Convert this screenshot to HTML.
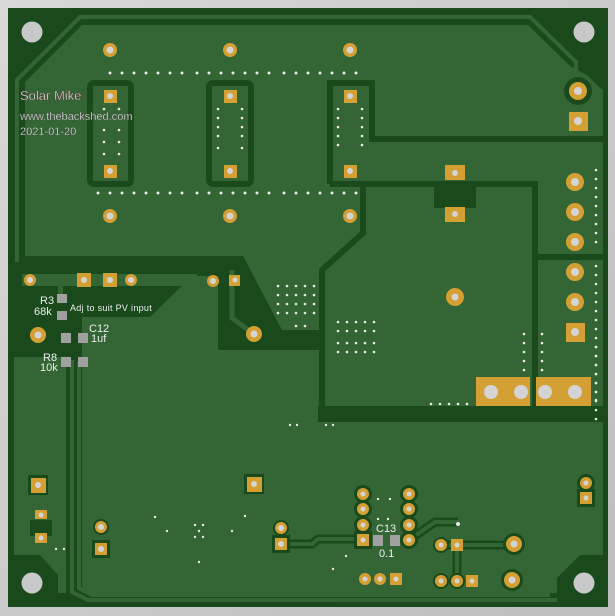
<!DOCTYPE html>
<html><head><meta charset="utf-8"><style>
html,body{margin:0;padding:0;width:615px;height:616px;overflow:hidden;background:#c8c8c8}
svg{display:block}
text{font-family:"Liberation Sans",sans-serif;fill:#eee}
</style></head><body>
<svg width="615" height="616" viewBox="0 0 615 616" xmlns="http://www.w3.org/2000/svg">
<defs>
<linearGradient id="bg" x1="0" y1="0" x2="1" y2="1"><stop offset="0" stop-color="#d8d8d8"/><stop offset="1" stop-color="#bdbdbd"/></linearGradient>
</defs>
<rect width="615" height="616" fill="url(#bg)"/>
<rect x="8" y="8" width="600" height="599" fill="#1a4a1c"/>
<rect x="14" y="14" width="589" height="586" fill="#346535"/>
<g fill="#1a4a1c">
<rect x="8" y="8" width="600" height="17"/>
<polygon points="8,8 100,8 100,25 82,25 25,82 25,258 8,258"/>
<polygon points="520,8 608,8 608,92 600,88 587,75 570,66 528,25"/>
<polygon points="8,256 224,256 220,276 192,276 150,317 82,317 82,357 8,357"/>
<polygon points="218,256 243,256 282,330 324,330 324,350 218,350"/>
<rect x="318" y="406" width="290" height="16"/>
<rect x="66" y="357" width="16" height="250"/>
<rect x="8" y="593" width="600" height="14"/>
<polygon points="8,555 40,555 58,575 58,607 8,607"/>
<polygon points="608,555 580,555 557,578 557,607 608,607"/>
<rect x="603" y="8" width="5" height="599"/>
<rect x="8" y="355" width="6" height="252"/>
</g>
<g fill="#346535">
<rect x="22" y="274" width="175" height="12"/>
<rect x="58" y="286" width="5" height="12"/>
</g>
<polyline points="232,270 232,318 254,334" fill="none" stroke="#346535" stroke-width="5"/>
<g fill="none" stroke="#1a4a1c" stroke-width="6">
<rect x="90" y="83" width="41" height="101" rx="4"/>
<rect x="209" y="83" width="42" height="101" rx="4"/>
<polyline points="330,184 330,83 372,83 372,139 603,139"/>
<polyline points="330,184 535,184 535,410"/>
<polyline points="322,410 322,270 363,233 363,186"/>
<line x1="535" y1="257" x2="603" y2="257"/>
</g>
<rect x="434" y="186" width="42" height="22" fill="#1a4a1c"/>
<g fill="none" stroke="#346535" stroke-width="4">
<polyline points="17,262 17,80 80,17 530,17 576,62 576,82"/>
<polyline points="72,360 72,592 88,600 557,600"/>
<polyline points="79,362 79,588 92,595 550,595"/>
</g>
<g fill="none" stroke="#1a4a1c" stroke-width="9" stroke-linejoin="round">
<polyline points="281,544 312,544 318,539 363,539"/>
<polyline points="409,540 435,522 458,522"/>
<polyline points="441,545 514,545"/><line x1="457" y1="545" x2="457" y2="581"/>
</g>
<g fill="none" stroke="#346535" stroke-width="4" stroke-linejoin="round">
<polyline points="281,544 312,544 318,539 363,539"/>
<polyline points="409,540 435,522 458,522"/>
<polyline points="441,545 514,545"/><line x1="457" y1="545" x2="457" y2="581"/>
</g>
<g fill="#1a4a1c">
<circle cx="578" cy="91" r="14"/>
<circle cx="363" cy="494" r="9"/><circle cx="363" cy="509" r="9"/><circle cx="363" cy="525" r="9"/><rect x="354" y="531" width="18" height="18"/>
<circle cx="409" cy="494" r="9"/><circle cx="409" cy="509" r="9"/><circle cx="409" cy="525" r="9"/><circle cx="409" cy="540" r="9"/>
<circle cx="514" cy="544" r="11"/><circle cx="512" cy="580" r="11"/>
<circle cx="586" cy="483" r="9"/><rect x="577" y="489" width="18" height="18"/>
<rect x="28" y="475" width="20" height="20"/><rect x="244" y="474" width="20" height="20"/>
<rect x="30" y="520" width="22" height="16"/><rect x="92" y="540" width="18" height="18"/><rect x="272" y="535" width="18" height="18"/>
<circle cx="101" cy="527" r="8"/><circle cx="281" cy="528" r="8"/>
<circle cx="441" cy="545" r="8"/><circle cx="441" cy="581" r="8"/><circle cx="457" cy="581" r="8"/>
</g>
<g fill="#d4a033">
<circle cx="110" cy="50" r="7"/><circle cx="230" cy="50" r="7"/><circle cx="350" cy="50" r="7"/>
<circle cx="110" cy="216" r="7"/><circle cx="230" cy="216" r="7"/><circle cx="350" cy="216" r="7"/>
<rect x="104" y="90" width="13" height="13"/><rect x="104" y="165" width="13" height="13"/>
<rect x="224" y="90" width="13" height="13"/><rect x="224" y="165" width="13" height="13"/>
<rect x="344" y="90" width="13" height="13"/><rect x="344" y="165" width="13" height="13"/>
<circle cx="578" cy="91" r="9"/><rect x="569" y="112" width="19" height="19"/>
<rect x="445" y="165" width="20" height="15"/><rect x="445" y="207" width="20" height="15"/>
<circle cx="575" cy="182" r="9"/><circle cx="575" cy="212" r="9"/><circle cx="575" cy="242" r="9"/><circle cx="575" cy="272" r="9"/><circle cx="575" cy="302" r="9"/><rect x="566" y="323" width="19" height="19"/>
<circle cx="455" cy="297" r="9"/>
<rect x="476" y="377" width="54" height="29"/><rect x="536" y="377" width="55" height="29"/>
<circle cx="30" cy="280" r="6"/><circle cx="131" cy="280" r="6"/><rect x="77" y="273" width="14" height="14"/><rect x="103" y="273" width="14" height="14"/>
<circle cx="213" cy="281" r="6"/><rect x="229" y="275" width="11" height="11"/>
<circle cx="254" cy="334" r="8"/><circle cx="38" cy="335" r="8"/>
<rect x="31" y="478" width="15" height="15"/><rect x="247" y="477" width="15" height="15"/>
<rect x="35" y="510" width="12" height="9"/><rect x="35" y="533" width="12" height="10"/>
<circle cx="101" cy="527" r="6"/><rect x="95" y="543" width="12" height="12"/>
<circle cx="281" cy="528" r="6"/><rect x="275" y="538" width="12" height="12"/>
<circle cx="363" cy="494" r="6"/><circle cx="363" cy="509" r="6"/><circle cx="363" cy="525" r="6"/><rect x="357" y="534" width="12" height="12"/>
<circle cx="409" cy="494" r="6"/><circle cx="409" cy="509" r="6"/><circle cx="409" cy="525" r="6"/><circle cx="409" cy="540" r="6"/>
<circle cx="365" cy="579" r="6"/><circle cx="380" cy="579" r="6"/><rect x="390" y="573" width="12" height="12"/>
<circle cx="441" cy="545" r="6"/><rect x="451" y="539" width="12" height="12"/>
<circle cx="441" cy="581" r="6"/><circle cx="457" cy="581" r="6"/><rect x="466" y="575" width="12" height="12"/>
<circle cx="514" cy="544" r="8"/><circle cx="512" cy="580" r="8"/>
<circle cx="586" cy="483" r="6"/><rect x="580" y="492" width="12" height="12"/>
</g>
<g fill="#d4d4d4">
<circle cx="110" cy="50" r="3.5"/><circle cx="230" cy="50" r="3.5"/><circle cx="350" cy="50" r="3.5"/>
<circle cx="110" cy="216" r="3.5"/><circle cx="230" cy="216" r="3.5"/><circle cx="350" cy="216" r="3.5"/>
<circle cx="110" cy="96" r="3"/><circle cx="110" cy="171" r="3"/><circle cx="230" cy="96" r="3"/><circle cx="230" cy="171" r="3"/><circle cx="350" cy="96" r="3"/><circle cx="350" cy="171" r="3"/>
<circle cx="578" cy="91" r="4"/><circle cx="578" cy="121" r="4"/><circle cx="455" cy="173" r="3"/><circle cx="455" cy="214" r="3"/>
<circle cx="575" cy="182" r="4"/><circle cx="575" cy="212" r="4"/><circle cx="575" cy="242" r="4"/><circle cx="575" cy="272" r="4"/><circle cx="575" cy="302" r="4"/><circle cx="575" cy="332" r="4"/><circle cx="455" cy="297" r="3.5"/>
<circle cx="491" cy="392" r="7"/><circle cx="521" cy="392" r="7"/><circle cx="545" cy="392" r="7"/><circle cx="575" cy="392" r="7"/>
<circle cx="30" cy="280" r="3"/><circle cx="131" cy="280" r="3"/><circle cx="84" cy="280" r="3"/><circle cx="110" cy="280" r="3"/><circle cx="213" cy="281" r="3"/><circle cx="235" cy="280" r="2.5"/>
<circle cx="254" cy="334" r="3.5"/><circle cx="38" cy="335" r="3.5"/><circle cx="38" cy="485" r="3"/><circle cx="254" cy="484" r="3"/>
<circle cx="41" cy="515" r="2.5"/><circle cx="41" cy="538" r="2.5"/><circle cx="101" cy="527" r="3"/><circle cx="101" cy="549" r="3"/><circle cx="281" cy="528" r="3"/><circle cx="281" cy="544" r="3"/>
<circle cx="363" cy="494" r="2.5"/><circle cx="363" cy="509" r="2.5"/><circle cx="363" cy="525" r="2.5"/><circle cx="363" cy="540" r="2.5"/>
<circle cx="409" cy="494" r="2.5"/><circle cx="409" cy="509" r="2.5"/><circle cx="409" cy="525" r="2.5"/><circle cx="409" cy="540" r="2.5"/>
<circle cx="365" cy="579" r="2.5"/><circle cx="380" cy="579" r="2.5"/><circle cx="396" cy="579" r="2.5"/>
<circle cx="441" cy="545" r="2.5"/><circle cx="457" cy="545" r="2.5"/><circle cx="441" cy="581" r="2.5"/><circle cx="457" cy="581" r="2.5"/><circle cx="472" cy="581" r="2.5"/>
<circle cx="514" cy="544" r="3.5"/><circle cx="512" cy="580" r="3.5"/><circle cx="586" cy="483" r="2.5"/><circle cx="586" cy="498" r="2.5"/>
<circle cx="32" cy="32" r="10.5" fill="#c8c8c8"/><circle cx="584" cy="32" r="10.5" fill="#c8c8c8"/><circle cx="32" cy="583" r="10.5" fill="#c8c8c8"/><circle cx="584" cy="583" r="10.5" fill="#c8c8c8"/>
</g>
<g fill="#e8e8e8">
<g id="row1"><circle cx="110" cy="73" r="1.5"/><circle cx="122" cy="73" r="1.5"/><circle cx="134" cy="73" r="1.5"/><circle cx="146" cy="73" r="1.5"/><circle cx="158" cy="73" r="1.5"/><circle cx="170" cy="73" r="1.5"/><circle cx="182" cy="73" r="1.5"/><circle cx="197" cy="73" r="1.5"/><circle cx="209" cy="73" r="1.5"/><circle cx="221" cy="73" r="1.5"/><circle cx="233" cy="73" r="1.5"/><circle cx="245" cy="73" r="1.5"/><circle cx="257" cy="73" r="1.5"/><circle cx="269" cy="73" r="1.5"/><circle cx="284" cy="73" r="1.5"/><circle cx="296" cy="73" r="1.5"/><circle cx="308" cy="73" r="1.5"/><circle cx="320" cy="73" r="1.5"/><circle cx="332" cy="73" r="1.5"/><circle cx="344" cy="73" r="1.5"/><circle cx="356" cy="73" r="1.5"/></g>
<use href="#row1" y="120"/><circle cx="98" cy="193" r="1.5"/>
<circle cx="104" cy="109" r="1.3"/><circle cx="119" cy="109" r="1.3"/><circle cx="104" cy="130" r="1.3"/><circle cx="119" cy="130" r="1.3"/><circle cx="104" cy="142" r="1.3"/><circle cx="119" cy="142" r="1.3"/><circle cx="104" cy="154" r="1.3"/><circle cx="119" cy="154" r="1.3"/>
<circle cx="218" cy="109" r="1.3"/><circle cx="242" cy="109" r="1.3"/><circle cx="218" cy="118" r="1.3"/><circle cx="242" cy="118" r="1.3"/><circle cx="218" cy="127" r="1.3"/><circle cx="242" cy="127" r="1.3"/><circle cx="218" cy="136" r="1.3"/><circle cx="242" cy="136" r="1.3"/><circle cx="218" cy="148" r="1.3"/><circle cx="242" cy="148" r="1.3"/>
<circle cx="338" cy="109" r="1.3"/><circle cx="362" cy="109" r="1.3"/><circle cx="338" cy="118" r="1.3"/><circle cx="362" cy="118" r="1.3"/><circle cx="338" cy="127" r="1.3"/><circle cx="362" cy="127" r="1.3"/><circle cx="338" cy="136" r="1.3"/><circle cx="362" cy="136" r="1.3"/><circle cx="338" cy="145" r="1.3"/><circle cx="362" cy="145" r="1.3"/>
<g id="col"><circle cx="596" cy="170" r="1.3"/><circle cx="596" cy="179" r="1.3"/><circle cx="596" cy="188" r="1.3"/><circle cx="596" cy="197" r="1.3"/><circle cx="596" cy="206" r="1.3"/><circle cx="596" cy="215" r="1.3"/><circle cx="596" cy="224" r="1.3"/><circle cx="596" cy="233" r="1.3"/><circle cx="596" cy="242" r="1.3"/></g>
<use href="#col" y="96"/><use href="#col" y="177"/>
<circle cx="596" cy="347" r="1.3"/><circle cx="596" cy="356" r="1.3"/><circle cx="596" cy="365" r="1.3"/><circle cx="596" cy="374" r="1.3"/><circle cx="596" cy="383" r="1.3"/><circle cx="596" cy="392" r="1.3"/><circle cx="596" cy="400" r="1.3"/>
<circle cx="524" cy="334" r="1.3"/><circle cx="524" cy="343" r="1.3"/><circle cx="524" cy="352" r="1.3"/><circle cx="524" cy="361" r="1.3"/><circle cx="524" cy="370" r="1.3"/>
<circle cx="542" cy="334" r="1.3"/><circle cx="542" cy="343" r="1.3"/><circle cx="542" cy="352" r="1.3"/><circle cx="542" cy="361" r="1.3"/><circle cx="542" cy="370" r="1.3"/>
<circle cx="431" cy="404" r="1.3"/><circle cx="440" cy="404" r="1.3"/><circle cx="449" cy="404" r="1.3"/><circle cx="458" cy="404" r="1.3"/><circle cx="467" cy="404" r="1.3"/>
<g id="grid"><circle cx="338" cy="322" r="1.3"/><circle cx="347" cy="322" r="1.3"/><circle cx="356" cy="322" r="1.3"/><circle cx="365" cy="322" r="1.3"/><circle cx="374" cy="322" r="1.3"/><circle cx="338" cy="331" r="1.3"/><circle cx="347" cy="331" r="1.3"/><circle cx="356" cy="331" r="1.3"/><circle cx="365" cy="331" r="1.3"/><circle cx="374" cy="331" r="1.3"/></g>
<use href="#grid" y="21"/>
<use href="#grid" x="-60" y="-36"/><use href="#grid" x="-60" y="-18"/>
<circle cx="296" cy="326" r="1.3"/><circle cx="305" cy="326" r="1.3"/>
<circle cx="290" cy="425" r="1.2"/><circle cx="297" cy="425" r="1.2"/><circle cx="326" cy="425" r="1.2"/><circle cx="333" cy="425" r="1.2"/>
<circle cx="155" cy="517" r="1.2"/><circle cx="167" cy="531" r="1.2"/><circle cx="195" cy="525" r="1.2"/><circle cx="203" cy="525" r="1.2"/><circle cx="199" cy="531" r="1.2"/><circle cx="195" cy="537" r="1.2"/><circle cx="203" cy="537" r="1.2"/><circle cx="232" cy="531" r="1.2"/><circle cx="245" cy="516" r="1.2"/><circle cx="199" cy="562" r="1.2"/>
<circle cx="56" cy="549" r="1.2"/><circle cx="64" cy="549" r="1.2"/>
<circle cx="378" cy="499" r="1.2"/><circle cx="390" cy="499" r="1.2"/><circle cx="378" cy="519" r="1.2"/><circle cx="388" cy="519" r="1.2"/><circle cx="346" cy="556" r="1.2"/><circle cx="333" cy="569" r="1.2"/><circle cx="458" cy="524" r="2"/>
</g>
<g fill="#a0a0a0">
<rect x="57" y="294" width="10" height="9"/><rect x="57" y="311" width="10" height="9"/>
<rect x="61" y="333" width="10" height="10"/><rect x="78" y="333" width="10" height="10"/>
<rect x="61" y="357" width="10" height="10"/><rect x="78" y="357" width="10" height="10"/>
<rect x="373" y="535" width="10" height="11"/><rect x="390" y="535" width="10" height="11"/>
</g>
<g font-size="12">
<text x="20" y="100" font-size="13" stroke="#5a3a3a" stroke-width="0.4">Solar Mike</text>
<text x="20" y="120" font-size="11" stroke="#4a4a4a" stroke-width="0.3">www.thebackshed.com</text>
<text x="20" y="135" font-size="11" stroke="#4a4a4a" stroke-width="0.3">2021-01-20</text>
<text x="40" y="304" font-size="11">R3</text><text x="34" y="315" font-size="11">68k</text>
<text x="70" y="311" font-size="9" letter-spacing="0.3">Adj to suit PV input</text>
<text x="89" y="332" font-size="11">C12</text><text x="91" y="342" font-size="11">1uf</text>
<text x="43" y="361" font-size="11">R8</text><text x="40" y="371" font-size="11">10k</text>
<text x="376" y="532" font-size="11">C13</text><text x="379" y="557" font-size="11">0.1</text>
</g>
</svg>
</body></html>
